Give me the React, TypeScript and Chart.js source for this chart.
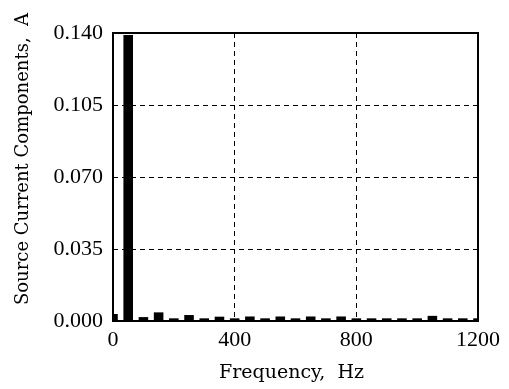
import React, { useEffect, useRef } from "react";
import { Chart, registerables } from "chart.js";

Chart.register(...registerables);

const frequencies = [0, 50, 100, 150, 200, 250, 300, 350, 400, 450, 500, 550, 600, 650, 700, 750, 800, 850, 900, 950, 1000, 1050, 1100, 1150, 1200];
const amplitudes = [0.0034, 0.139, 0.0019, 0.0042, 0.0013, 0.0029, 0.0013, 0.0021, 0.0013, 0.0022, 0.0013, 0.0022, 0.0013, 0.0022, 0.0013, 0.0022, 0.0013, 0.0013, 0.0013, 0.0013, 0.0013, 0.0025, 0.0013, 0.0013, 0.0013];
const xTicks = [0, 400, 800, 1200];
const yTicks = [0, 0.035, 0.07, 0.105, 0.14];
const xTitle = "Frequency,  Hz";
const yTitle = "Source Current Components,  A";

const TICK_FONT = { family: "'Liberation Serif', serif", size: 22 };

const framePlugin = {
  id: "frameAndTitles",
  afterDatasetsDraw(chart: any) {
    const { ctx, chartArea } = chart;
    ctx.save();
    ctx.strokeStyle = "#000";
    ctx.lineWidth = 2;
    ctx.strokeRect(chartArea.left, chartArea.top, chartArea.right - chartArea.left, chartArea.bottom - chartArea.top);
    ctx.restore();
  },
  afterDraw(chart: any) {
    const { ctx, chartArea } = chart;
    ctx.save();
    ctx.fillStyle = "#000";
    ctx.font = "19px 'DejaVu Serif', serif";
    ctx.textAlign = "center";
    ctx.textBaseline = "alphabetic";
    ctx.fillText(xTitle, (chartArea.left + chartArea.right) / 2 - 4, 378);
    ctx.translate(23, 159);
    ctx.rotate(-Math.PI / 2);
    ctx.font = "18px 'DejaVu Serif', serif";
    ctx.textBaseline = "middle";
    ctx.fillText(yTitle, 0, 0);
    ctx.restore();
  },
};

export default function App() {
  const ref = useRef<HTMLCanvasElement | null>(null);
  useEffect(() => {
    if (!ref.current) return;
    const chart = new Chart(ref.current, {
      type: "bar",
      data: {
        datasets: [
          {
            data: frequencies.map((f, i) => ({ x: f, y: amplitudes[i] })),
            backgroundColor: "#000",
            borderWidth: 0,
            barPercentage: 0.63,
            categoryPercentage: 1,
          },
        ],
      },
      options: {
        responsive: false,
        animation: false,
        layout: { padding: { left: 0, top: 33, right: 31, bottom: 0 } },
        plugins: { legend: { display: false }, tooltip: { enabled: false } },
        scales: {
          x: {
            type: "linear",
            min: 0,
            max: 1200,
            offset: false,
            afterFit: (s: any) => {
              s.height = 68;
            },
            afterBuildTicks: (s: any) => {
              s.ticks = xTicks.map((v) => ({ value: v }));
            },
            ticks: {
              color: "#000",
              font: TICK_FONT,
              padding: 6,
              maxRotation: 0,
              autoSkip: false,
              callback: (v: any) => String(v),
            },
            grid: { color: "#000", lineWidth: 1, drawTicks: false, offset: false },
            border: { display: false, dash: [5, 4] },
          },
          y: {
            min: 0,
            max: 0.14,
            afterFit: (s: any) => {
              s.width = 113;
            },
            afterBuildTicks: (s: any) => {
              s.ticks = yTicks.map((v) => ({ value: v }));
            },
            ticks: {
              color: "#000",
              font: TICK_FONT,
              padding: 10,
              autoSkip: false,
              callback: (v: any) => Number(v).toFixed(3),
            },
            grid: { color: "#000", lineWidth: 1, drawTicks: false },
            border: { display: false, dash: [5, 4] },
          },
        },
      },
      plugins: [framePlugin],
    });
    return () => chart.destroy();
  }, []);
  return (
    <div style={{ position: "fixed", left: 0, top: 0, width: 509, height: 389, background: "#fff" }}>
      <canvas ref={ref} width={509} height={389} />
    </div>
  );
}
